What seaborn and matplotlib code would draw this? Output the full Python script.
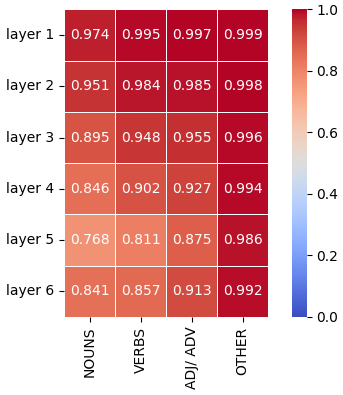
import matplotlib
matplotlib.use("Agg")
import matplotlib.pyplot as plt
import seaborn as sns
import pandas as pd

layers = ["layer 1", "layer 2", "layer 3", "layer 4", "layer 5", "layer 6"]
categories = ["NOUNS", "VERBS", "ADJ/ ADV", "OTHER"]
nouns = [0.974, 0.951, 0.895, 0.846, 0.768, 0.841]
verbs = [0.995, 0.984, 0.948, 0.902, 0.811, 0.857]
adj_adv = [0.997, 0.985, 0.955, 0.927, 0.875, 0.913]
other = [0.999, 0.998, 0.996, 0.994, 0.986, 0.992]

df = pd.DataFrame({"NOUNS": nouns, "VERBS": verbs, "ADJ/ ADV": adj_adv, "OTHER": other},
                  index=layers)[categories]

fig = plt.figure(figsize=(3.43, 3.95), dpi=100)
ax = fig.add_axes([0.1866, 0.198, 0.595, 0.778])
cax = fig.add_axes([0.851, 0.198, 0.043, 0.778])

sns.heatmap(df, ax=ax, cbar_ax=cax, cmap="coolwarm", vmin=0, vmax=1,
            annot=True, fmt=".3f", linewidths=0.5, linecolor="white",
            annot_kws={"fontsize": 10})

ax.set_xticklabels(categories, rotation=90, fontsize=10)
ax.set_yticklabels(layers, rotation=0, fontsize=10)
cax.tick_params(labelsize=10)

fig.savefig("out.png", dpi=100)
